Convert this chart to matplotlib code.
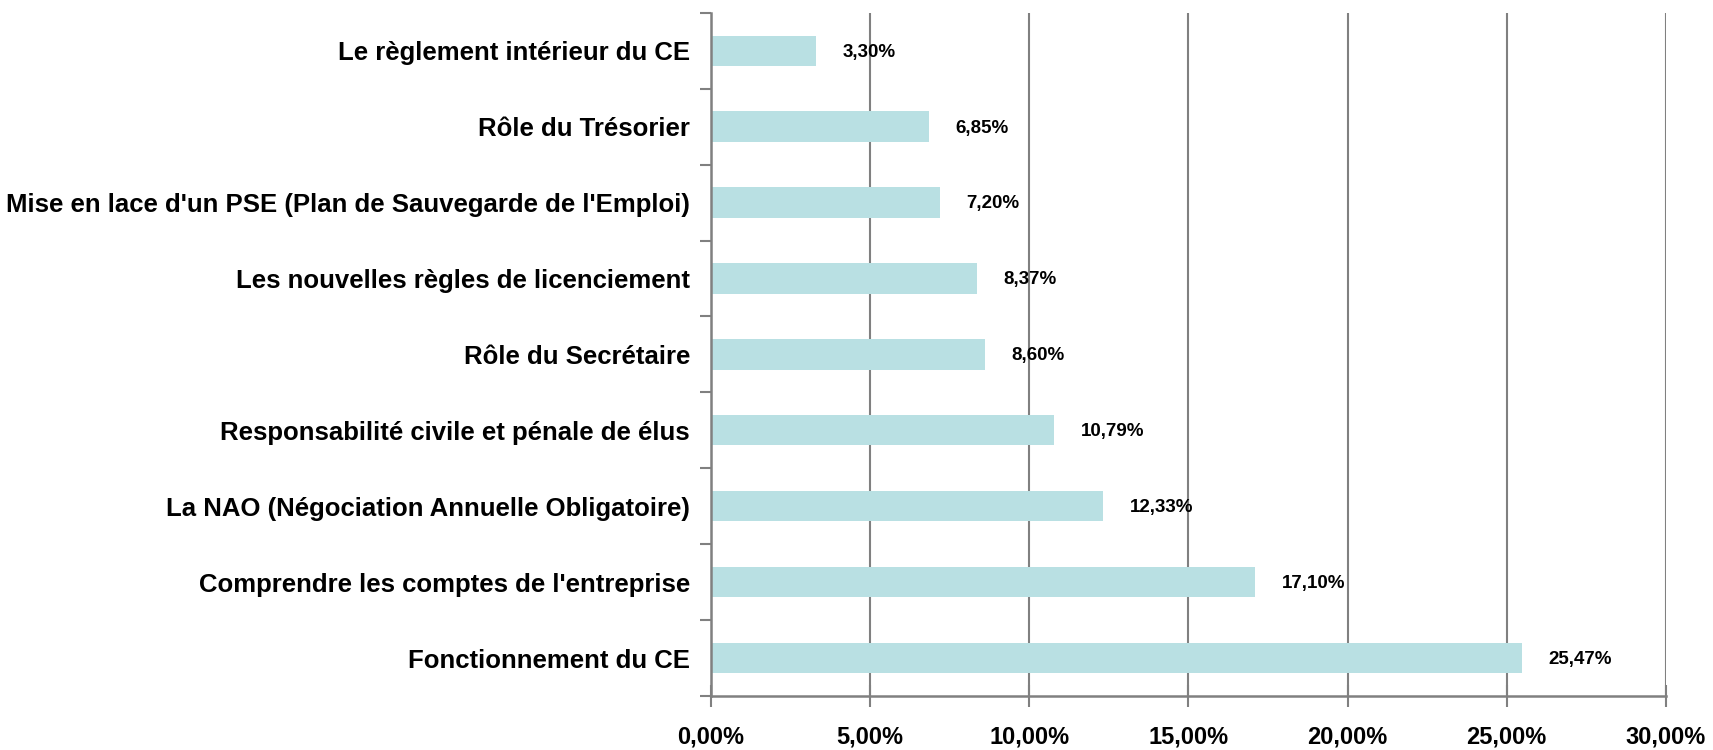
import matplotlib.pyplot as plt
import numpy as np
from matplotlib.ticker import FixedLocator, FuncFormatter

categories = [
    "Le règlement intérieur du CE",
    "Rôle du Trésorier",
    "Mise en lace d'un PSE (Plan de Sauvegarde de l'Emploi)",
    "Les nouvelles règles de licenciement",
    "Rôle du Secrétaire",
    "Responsabilité civile et pénale de élus",
    "La NAO (Négociation Annuelle Obligatoire)",
    "Comprendre les comptes de l'entreprise",
    "Fonctionnement du CE",
]
values = [3.30, 6.85, 7.20, 8.37, 8.60, 10.79, 12.33, 17.10, 25.47]
x_ticks = [0, 5, 10, 15, 20, 25, 30]

plt.rcParams["font.family"] = ["Liberation Sans", "DejaVu Sans"]
plt.rcParams["font.weight"] = "bold"

fig = plt.figure(figsize=(17.13, 7.5), dpi=100)
ax = fig.add_axes([0.415, 0.072, 0.5575, 0.911])

ypos = np.arange(len(categories))
ax.barh(ypos, values, height=0.4, color="#b9e0e3", zorder=2)

# value labels next to each bar
for y, v in zip(ypos, values):
    ax.annotate(
        f"{v:.2f}%".replace(".", ","),
        (v, y),
        textcoords="offset points",
        xytext=(19, -1),
        va="center",
        ha="left",
        fontsize=13.5,
        fontweight="bold",
        zorder=5,
    )

ax.set_xlim(0, 30)
ax.set_ylim(len(categories) - 0.5, -0.5)

ax.set_xticks(x_ticks)
ax.xaxis.set_major_formatter(FuncFormatter(lambda x, p: f"{x:.2f}%".replace(".", ",")))
ax.tick_params(axis="x", direction="inout", length=16, width=1.5, color="#808080",
               labelsize=17, pad=13)

ax.set_yticks(ypos)
ax.set_yticklabels(categories, fontsize=18.5, fontweight="bold")
ax.yaxis.set_minor_locator(FixedLocator(np.arange(-0.5, len(categories), 1.0)))
ax.tick_params(axis="y", which="major", length=0, pad=15)
ax.tick_params(axis="y", which="minor", direction="out", length=8, width=1.5, color="#808080")

ax.grid(axis="x", color="#808080", linewidth=1.5, zorder=0)
ax.set_axisbelow(True)

for side in ["top", "right"]:
    ax.spines[side].set_visible(False)
for side in ["left", "bottom"]:
    ax.spines[side].set_color("#808080")
    ax.spines[side].set_linewidth(1.8)

plt.savefig("out.png", dpi=100)
